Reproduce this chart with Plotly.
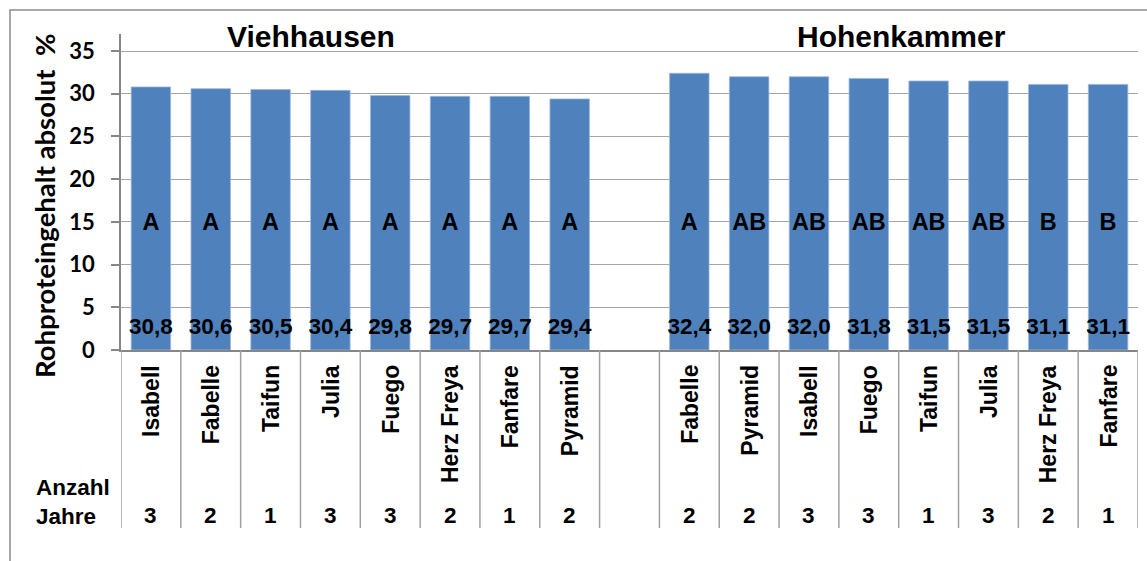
import plotly.graph_objects as go

# ---- data ----
vh_names = ["Isabell", "Fabelle", "Taifun", "Julia", "Fuego", "Herz Freya", "Fanfare", "Pyramid"]
vh_values = [30.8, 30.6, 30.5, 30.4, 29.8, 29.7, 29.7, 29.4]
vh_letters = ["A", "A", "A", "A", "A", "A", "A", "A"]
vh_years = [3, 2, 1, 3, 3, 2, 1, 2]

hk_names = ["Fabelle", "Pyramid", "Isabell", "Fuego", "Taifun", "Julia", "Herz Freya", "Fanfare"]
hk_values = [32.4, 32.0, 32.0, 31.8, 31.5, 31.5, 31.1, 31.1]
hk_letters = ["A", "AB", "AB", "AB", "AB", "AB", "B", "B"]
hk_years = [2, 2, 3, 3, 1, 3, 2, 1]

group_titles = ["Viehhausen", "Hohenkammer"]
y_title = "Rohproteingehalt absolut\u00a0\u00a0%"
years_label = "Anzahl<br>Jahre"
y_ticks = [0, 5, 10, 15, 20, 25, 30, 35]

# ---- positions (8 slots, one empty slot, 8 slots) ----
vh_x = list(range(0, 8))
hk_x = list(range(9, 17))
all_x = vh_x + hk_x
all_values = vh_values + hk_values
all_letters = vh_letters + hk_letters
all_names = vh_names + hk_names
all_years = vh_years + hk_years

FONT = "Liberation Sans, Arial, sans-serif"
FONT2 = "Lato, Liberation Sans, sans-serif"
BAR = "#4f81bd"
AXIS = "#868686"
GRID = "#a6a6a6"

W, H = 1147, 561
ML, MR, MT, MB = 121, 9, 34, 211
PH = H - MT - MB
PW = W - ML - MR


def py(pixel_y):
    return (H - MB - pixel_y) / PH


def px(pixel_x):
    return (pixel_x - ML) / PW


fig = go.Figure()
fig.add_trace(go.Bar(
    x=all_x, y=all_values, width=0.66,
    marker=dict(color=BAR, line=dict(color="#9fb9dc", width=0.8)),
    hoverinfo="skip", showlegend=False,
))
fig.add_trace(go.Scatter(
    x=all_x, y=[2.5] * len(all_x), mode="text",
    text=[f"{v:.1f}".replace(".", ",") for v in all_values],
    textfont=dict(family=FONT, size=22.5, color="black", weight="bold"),
    textposition="middle center", hoverinfo="skip", showlegend=False,
))
fig.add_trace(go.Scatter(
    x=all_x, y=[14.7] * len(all_x), mode="text",
    text=all_letters,
    textfont=dict(family=FONT, size=23.5, color="black", weight="bold"),
    textposition="middle center", hoverinfo="skip", showlegend=False,
))

shapes = []
# table vertical lines below axis
for b in [i - 0.5 for i in range(0, 18)]:
    shapes.append(dict(type="line", xref="x", yref="paper", x0=b, x1=b,
                       y0=0, y1=py(528), line=dict(color="#a0a0a0", width=1.5)))
# outer border
shapes.append(dict(type="rect", xref="paper", yref="paper",
                   x0=px(10), x1=px(1160), y0=py(575), y1=py(10),
                   line=dict(color="#8c8c8c", width=1.5), layer="below"))

annotations = []
for x, name in zip(all_x, all_names):
    annotations.append(dict(x=x, y=py(363), xref="x", yref="paper", text=f"<b>{name}</b>",
                            textangle=-90, xanchor="center", yanchor="top", showarrow=False,
                            font=dict(family=FONT, size=23, color="black")))
for x, n in zip(all_x, all_years):
    annotations.append(dict(x=x, y=py(515), xref="x", yref="paper", text=f"<b>{n}</b>",
                            xanchor="center", yanchor="middle", showarrow=False,
                            font=dict(family=FONT, size=22.5, color="black")))
annotations.append(dict(x=px(34), y=py(502), xref="paper", yref="paper", text=f"<b>{years_label}</b>",
                        xanchor="left", yanchor="middle", align="left", showarrow=False,
                        font=dict(family=FONT, size=22.5, color="black")))
for xc, t in zip([2.68, 12.54], group_titles):
    annotations.append(dict(x=xc, y=py(36), xref="x", yref="paper", text=f"<b>{t}</b>",
                            xanchor="center", yanchor="middle", showarrow=False,
                            font=dict(family=FONT, size=30, color="black")))
annotations.append(dict(x=px(44), y=py(206), xref="paper", yref="paper", text=f"<b>{y_title}</b>",
                        textangle=-90, xanchor="center", yanchor="middle", showarrow=False,
                        font=dict(family=FONT2, size=27.5, color="black")))

fig.update_layout(
    width=W, height=H, autosize=False,
    margin=dict(l=ML, r=MR, t=MT, b=MB, pad=0),
    paper_bgcolor="white", plot_bgcolor="white",
    shapes=shapes, annotations=annotations,
    font=dict(family=FONT, color="black"),
)
fig.update_xaxes(range=[-0.5, 16.5], showticklabels=False, showgrid=False, zeroline=False,
                 showline=True, linecolor=AXIS, linewidth=1.5, ticks="", fixedrange=True)
fig.update_yaxes(range=[0, 37], tickvals=y_ticks, showgrid=True, gridcolor=GRID, gridwidth=1.2,
                 zeroline=False, showline=True, linecolor=AXIS, linewidth=1.5,
                 ticks="outside", ticklen=8, tickcolor=AXIS, tickwidth=1.5,
                 ticklabelstandoff=12,
                 tickfont=dict(family=FONT2, size=22, color="black", weight="bold"), fixedrange=True)

fig.write_html("out.html", config={"displayModeBar": False},
               post_script="document.body.style.margin='0';")
